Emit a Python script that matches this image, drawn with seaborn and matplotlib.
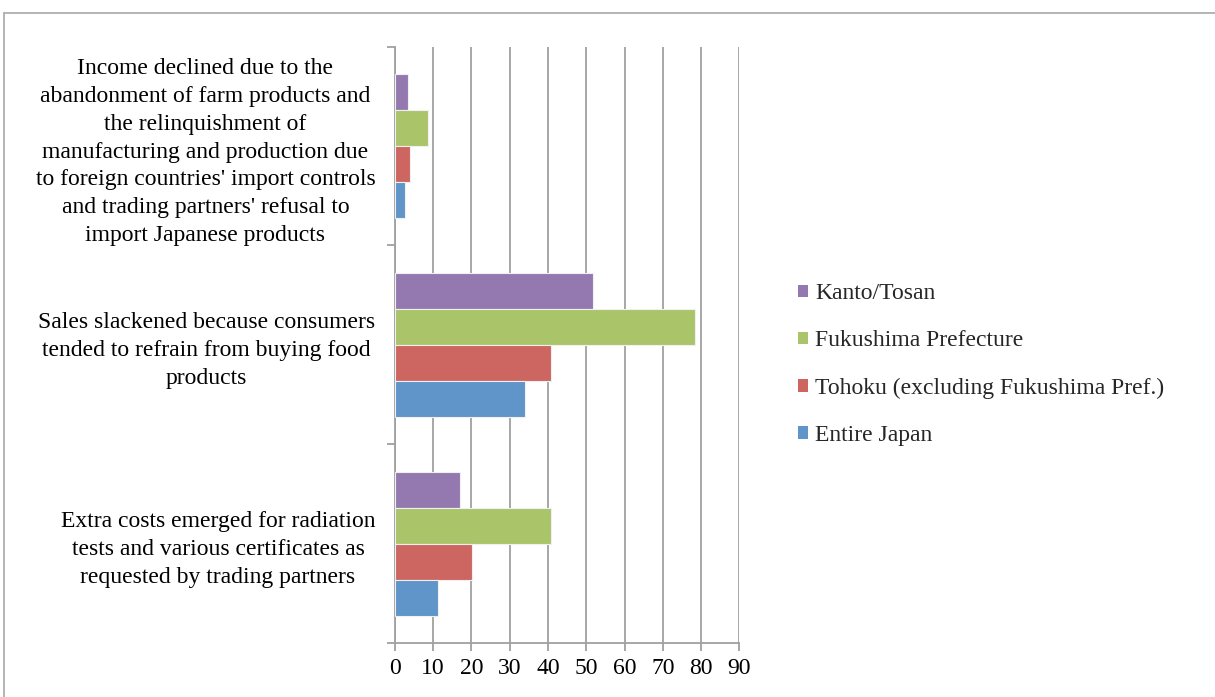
import matplotlib
matplotlib.use("Agg")
import matplotlib.pyplot as plt
import seaborn as sns
import pandas as pd
from matplotlib.lines import Line2D
from matplotlib.patches import Patch

categories = [
    "Income declined due to the\nabandonment of farm products and\nthe relinquishment of\nmanufacturing and production due\nto foreign countries' import controls\nand trading partners' refusal to\nimport Japanese products",
    "Sales slackened because consumers\ntended to refrain from buying food\nproducts",
    "Extra costs emerged for radiation\ntests and various certificates as\nrequested by trading partners",
]
regions = ["Kanto/Tosan", "Fukushima Prefecture",
           "Tohoku (excluding Fukushima Pref.)", "Entire Japan"]
kanto = [3.4, 51.7, 17.1]
fukushima = [8.8, 78.5, 40.9]
tohoku = [3.9, 40.9, 20.1]
entire = [2.7, 34.0, 11.4]
xticks = [0, 10, 20, 30, 40, 50, 60, 70, 80, 90]

colors = ["#9479B0", "#AAC46A", "#CD6660", "#5F95C8"]

rows = []
for reg, vals in zip(regions, [kanto, fukushima, tohoku, entire]):
    for c, v in zip(categories, vals):
        rows.append({"category": c, "region": reg, "value": v})
df = pd.DataFrame(rows)

sns.set_theme(style="white")
plt.rcParams["font.family"] = ["Liberation Serif", "DejaVu Serif"]

FS = 17
fig = plt.figure(figsize=(12.15, 6.97), dpi=100)
ax = fig.add_axes([0.3249, 0.0775, 0.6086 - 0.3249, 0.933 - 0.0775])

sns.barplot(data=df, y="category", x="value", hue="region", order=categories,
            hue_order=regions, palette=colors, saturation=1, orient="h", width=0.725,
            edgecolor="#F0F0F0", linewidth=0.8, ax=ax, legend=False, zorder=3)

gray = "#A0A0A0"
ax.set_xlim(0, 90)
ax.set_ylim(2.5, -0.5)
ax.set_xticks(xticks)
ax.set_xticklabels([str(t) for t in xticks], fontsize=FS, color="black")
ax.xaxis.grid(True, color=gray, linewidth=1.3, zorder=0)
ax.yaxis.grid(False)
ax.set_axisbelow(True)
ax.set_xlabel("")
ax.set_ylabel("")
ax.tick_params(axis="y", which="major", length=0, pad=14, labelsize=FS, labelcolor="black")
for lbl in ax.get_yticklabels():
    lbl.set_multialignment("center")
    lbl.set_linespacing(1.43)
ax.set_yticks([-0.5, 0.5, 1.5, 2.5], minor=True)
ax.tick_params(axis="y", which="minor", length=6, width=1.3, color=gray, left=True)
ax.tick_params(axis="x", which="major", length=6, width=1.3, color=gray, bottom=True, pad=5)
for s in ["top", "right"]:
    ax.spines[s].set_visible(False)
for s in ["left", "bottom"]:
    ax.spines[s].set_color(gray)
    ax.spines[s].set_linewidth(1.3)

handles = [Patch(facecolor=c, edgecolor="none") for c in colors]
fig.legend(handles, regions, loc="center left", bbox_to_anchor=(0.639, 0.477),
           frameon=False, fontsize=FS, handlelength=0.45, handleheight=0.45,
           handletextpad=0.3, labelspacing=1.1)

# outer chart border (top and left visible)
fig.add_artist(Line2D([4 / 1215, 1.0], [1 - 13 / 697, 1 - 13 / 697],
                      transform=fig.transFigure, color="#A8A8A8", linewidth=1.2))
fig.add_artist(Line2D([4 / 1215, 4 / 1215], [0, 1 - 13 / 697],
                      transform=fig.transFigure, color="#A8A8A8", linewidth=1.2))

fig.savefig("out.png", dpi=100, facecolor="white")
